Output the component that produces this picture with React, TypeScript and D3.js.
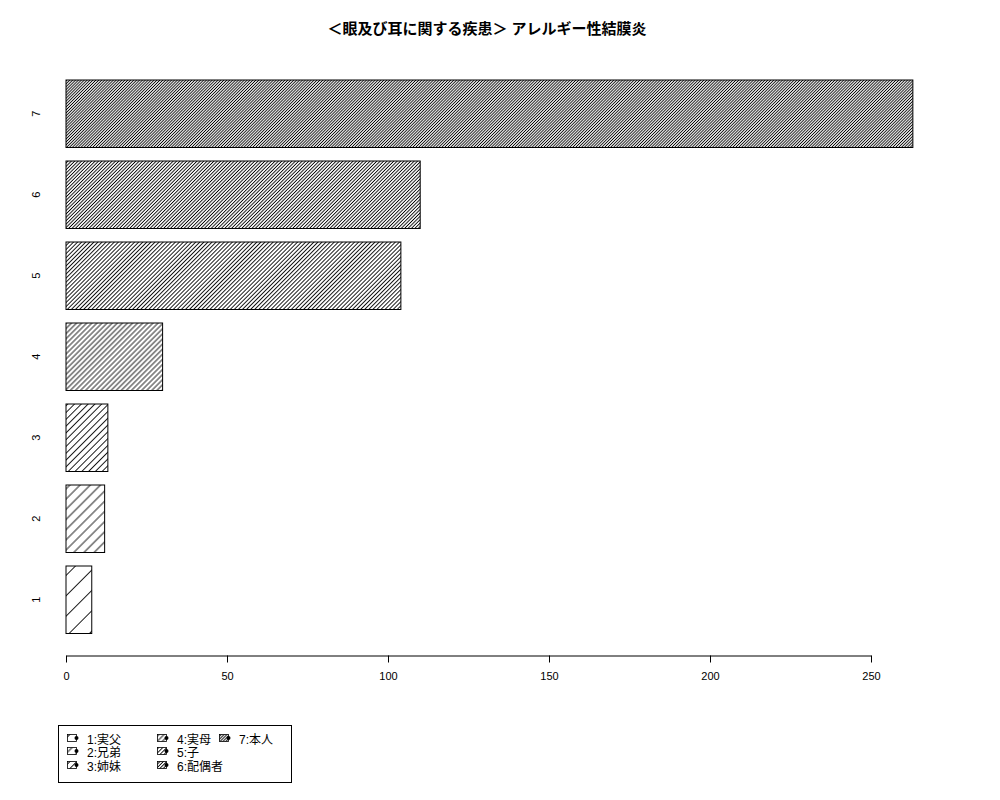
import React, { useRef, useEffect } from "react";
import { select, scaleLinear, axisBottom } from "d3";

// chart data
const categories = ["1", "2", "3", "4", "5", "6", "7"];
const values = [8, 12, 13, 30, 104, 110, 263];
const densities = [5, 10, 15, 20, 25, 30, 35]; // hatch lines per inch
const legendLabels = ["1:実父", "2:兄弟", "3:姉妹", "4:実母", "5:子", "6:配偶者", "7:本人"];
const xTicks = [0, 50, 100, 150, 200, 250];
const title = "＜眼及び耳に関する疾患＞ アレルギー性結膜炎";

const FONT = "'Liberation Sans', 'Noto Sans CJK JP', sans-serif";

const App: React.FC = () => {
  const svgRef = useRef<SVGSVGElement>(null);

  useEffect(() => {
    const svg = select(svgRef.current!);
    svg.selectAll("*").remove();

    const xScale = scaleLinear().domain([0, 250]).range([66, 871]);
    // bar units as in R barplot: width 1, space 0.2
    const yScale = scaleLinear().domain([0.2, 8.4]).range([633.5, 80]);

    const defs = svg.append("defs");
    densities.forEach((d, i) => {
      const spacing = 72 / d;
      const p = defs
        .append("pattern")
        .attr("id", `hatch${i}`)
        .attr("patternUnits", "userSpaceOnUse")
        .attr("width", spacing)
        .attr("height", 10)
        .attr("patternTransform", "rotate(45)");
      p.append("line")
        .attr("x1", spacing / 2)
        .attr("x2", spacing / 2)
        .attr("y1", -1)
        .attr("y2", 11)
        .attr("stroke", "#000")
        .attr("stroke-width", 0.9);
    });

    // title
    svg
      .append("text")
      .attr("x", 487)
      .attr("y", 34)
      .attr("text-anchor", "middle")
      .style("font-family", FONT)
      .style("font-size", "15px")
      .style("font-weight", "bold")
      .text(title);

    // bars
    const bars = svg.append("g");
    categories.forEach((c, i) => {
      const y0 = yScale(0.2 + i * 1.2);
      const y1 = yScale(1.2 + i * 1.2);
      const x0 = xScale(0);
      const x1 = xScale(values[i]);
      bars
        .append("rect")
        .attr("x", x0)
        .attr("y", y1)
        .attr("width", x1 - x0)
        .attr("height", y0 - y1)
        .attr("fill", `url(#hatch${i})`)
        .attr("stroke", "#000")
        .attr("stroke-width", 1);
      bars
        .append("text")
        .attr("transform", `translate(40,${yScale(0.7 + i * 1.2)}) rotate(-90)`)
        .attr("text-anchor", "middle")
        .style("font-family", FONT)
        .style("font-size", "11px")
        .text(c);
    });

    // x axis
    const xAxis = axisBottom(xScale)
      .tickValues(xTicks)
      .tickSize(7)
      .tickSizeOuter(0)
      .tickPadding(10)
      .tickFormat((d) => String(d));
    const gx = svg.append("g").attr("transform", "translate(0,655.5)").call(xAxis);
    gx.selectAll("text").style("font-family", FONT).style("font-size", "11px").attr("fill", "#000");
    gx.selectAll("line, path").attr("stroke", "#000");

    // legend
    const lg = svg.append("g");
    lg.append("rect")
      .attr("x", 58.5)
      .attr("y", 725.5)
      .attr("width", 233)
      .attr("height", 57)
      .attr("fill", "none")
      .attr("stroke", "#000");
    const colX = [67, 157, 219];
    const rowY = [744, 757, 771];
    legendLabels.forEach((lab, i) => {
      const col = Math.floor(i / 3);
      const row = i % 3;
      const bx = colX[col];
      const by = rowY[row];
      lg.append("rect")
        .attr("x", bx + 0.5)
        .attr("y", by - 9.5)
        .attr("width", 9)
        .attr("height", 7)
        .attr("fill", `url(#hatch${i})`)
        .attr("stroke", "#000")
        .attr("stroke-width", 0.8);
      lg.append("circle")
        .attr("cx", bx + 9.5)
        .attr("cy", by - 6)
        .attr("r", 2)
        .attr("fill", "#000");
      lg.append("text")
        .attr("x", bx + 20)
        .attr("y", by)
        .style("font-family", FONT)
        .style("font-size", "12px")
        .text(lab);
    });
  }, []);

  return (
    <svg
      ref={svgRef}
      width={1000}
      height={800}
      style={{ position: "absolute", left: 0, top: 0, background: "#fff" }}
    />
  );
};

export default App;
